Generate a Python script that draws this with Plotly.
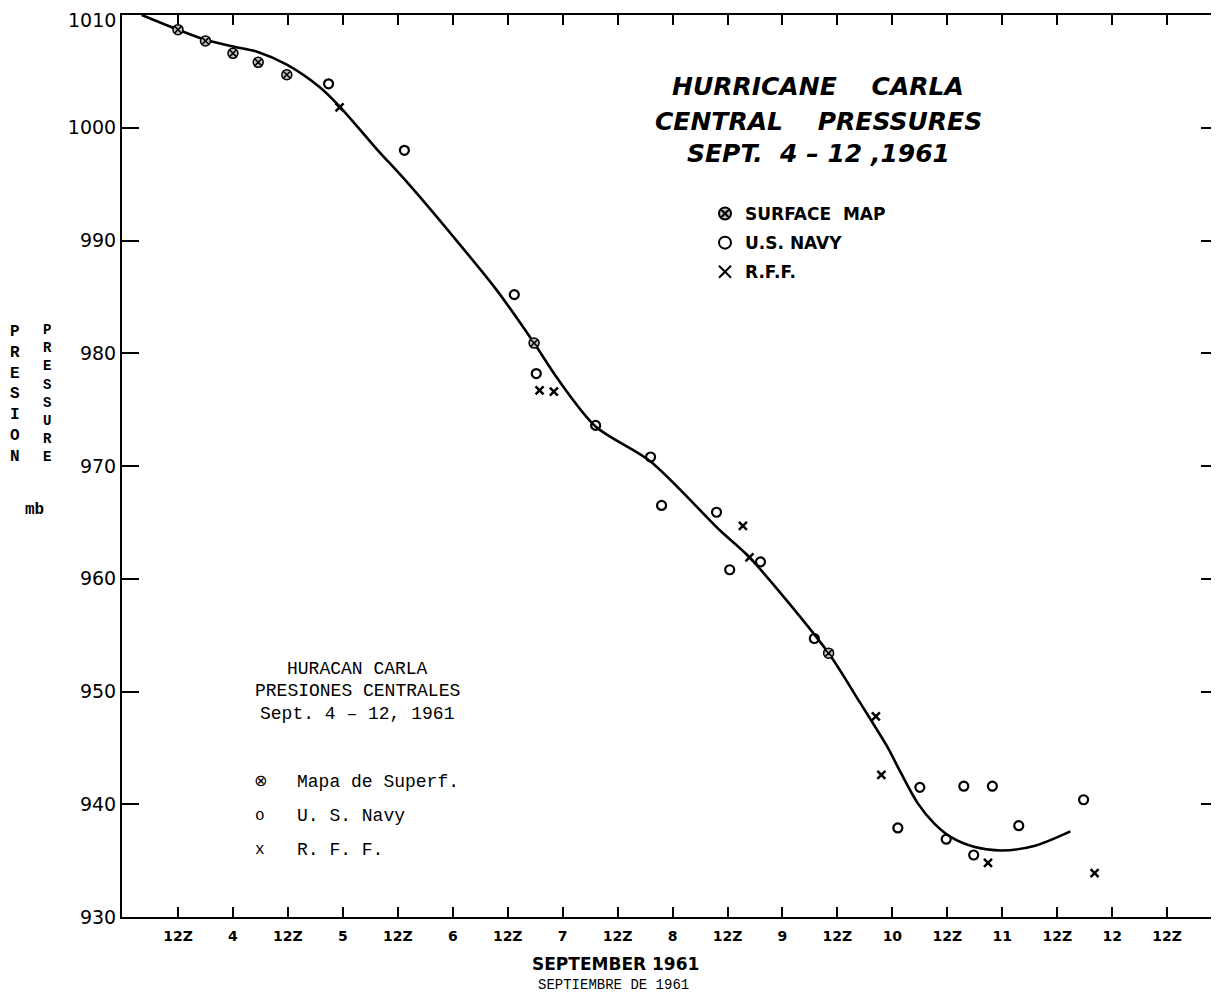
import plotly.graph_objects as go

# x values: day of September 1961 (fractional; .5 = 12Z)
surface_day = [3.50, 3.75, 4.00, 4.23, 4.49, 6.74, 9.42]
surface_mb = [1008.7, 1007.7, 1006.6, 1005.8, 1004.7, 980.9, 953.4]

navy_day = [4.87, 5.56, 6.56, 6.76, 7.30, 7.80, 7.90, 8.40, 8.52, 8.80, 9.29,
            10.05, 10.25, 10.49, 10.65, 10.74, 10.91, 11.15, 11.74]
navy_mb = [1003.9, 998.0, 985.2, 978.2, 973.6, 970.8, 966.5, 965.9, 960.8, 961.5, 954.7,
           937.9, 941.5, 936.9, 941.6, 935.5, 941.6, 938.1, 940.4]

rff_day = [4.97, 6.79, 6.92, 8.64, 8.70, 9.85, 9.90, 10.87, 11.84]
rff_mb = [1001.8, 976.7, 976.6, 964.7, 961.9, 947.8, 942.6, 934.8, 933.9]

curve_day = [3.17, 3.50, 3.75, 4.00, 4.22, 4.49, 4.79, 4.97, 5.30, 5.60, 6.00, 6.40,
             6.74, 6.95, 7.30, 7.80, 8.43, 8.70, 9.42, 9.70, 9.96, 10.05, 10.23, 10.38,
             10.53, 10.75, 10.99, 11.29, 11.62]
curve_mb = [1010.0, 1008.7, 1007.8, 1007.2, 1006.75, 1005.6, 1003.6, 1001.9, 998.2, 995.0,
            990.4, 985.6, 980.9, 977.8, 973.5, 970.4, 964.3, 961.9, 953.4, 949.1, 945.0,
            943.3, 940.1, 938.3, 937.1, 936.2, 935.9, 936.3, 937.6]

tick_days = [3.5, 4, 4.5, 5, 5.5, 6, 6.5, 7, 7.5, 8, 8.5, 9, 9.5, 10, 10.5, 11, 11.5, 12, 12.5]
tick_labels = ["12Z", "4", "12Z", "5", "12Z", "6", "12Z", "7", "12Z", "8", "12Z", "9",
               "12Z", "10", "12Z", "11", "12Z", "12", "12Z"]
y_ticks = [930, 940, 950, 960, 970, 980, 990, 1000, 1010]
y_tick_labels = ["930", "940", "950", "960", "970", "980", "990", "1000", "1010"]

title_lines = ["HURRICANE\u00a0\u00a0\u00a0 CARLA", "CENTRAL\u00a0\u00a0\u00a0 PRESSURES",
               "SEPT.\u00a0 4 \u2013 12 ,1961"]
es_title_lines = ["HURACAN CARLA", "PRESIONES CENTRALES", "Sept. 4 \u2013 12, 1961"]
es_legend_symbols = ["\u2297", "o", "x"]
es_legend_texts = ["Mapa de Superf.", "U. S. Navy", "R. F. F."]

fig = go.Figure()
fig.add_trace(go.Scatter(
    x=curve_day, y=curve_mb, mode="lines", showlegend=False, hoverinfo="skip",
    line=dict(color="black", width=2.6, shape="spline", smoothing=0.8)))
fig.add_trace(go.Scatter(
    x=surface_day, y=surface_mb, mode="markers", name="SURFACE\u00a0\u00a0MAP", legendgroup="a",
    marker=dict(symbol="circle-x", size=10, color="#bdbdbd", line=dict(color="black", width=1.5))))
fig.add_trace(go.Scatter(
    x=navy_day, y=navy_mb, mode="markers", name="U.S. NAVY", legendgroup="b",
    marker=dict(symbol="circle-open", size=9, color="black", line=dict(color="black", width=2.2))))
fig.add_trace(go.Scatter(
    x=rff_day, y=rff_mb, mode="markers", name="R.F.F.", legendgroup="c",
    marker=dict(symbol="x-thin-open", size=8, color="black", line=dict(color="black", width=2.5))))

# the page body adds an 8 px offset; compensate so the plot lands where the reference has it
OFF = 8
L, R, T, B = 114, 1, 7, 78
W, H = 1219 - OFF, 995 - OFF
pw, ph = W - L - R, H - T - B


def px(xp):
    return (xp - OFF - L) / pw


def py(yp):
    return (H - B - (yp - OFF)) / ph


ytick_font = dict(family="DejaVu Sans", size=19, color="black")

ann = []
# the top tick label sits at the very top edge; place it just inside the page so it is not clipped
ann.append(dict(text=y_tick_labels[-1], x=px(117), y=py(8.5), xref="paper", yref="paper",
                xanchor="right", yanchor="top", showarrow=False, font=ytick_font, borderpad=0))

title_font = dict(family="DejaVu Sans", size=25, color="black", style="italic", weight="bold")
for txt, yy in zip(title_lines, [86.5, 121.5, 154]):
    ann.append(dict(text=txt, x=px(818), y=py(yy), xref="paper", yref="paper",
                    xanchor="center", yanchor="middle", showarrow=False, font=title_font))

es_font = dict(family="Liberation Mono", size=18, color="black")
for txt, yy in zip(es_title_lines, [669, 691, 714]):
    ann.append(dict(text=txt, x=px(357), y=py(yy), xref="paper", yref="paper",
                    xanchor="center", yanchor="middle", showarrow=False, font=es_font))
for sym, txt, yy in zip(es_legend_symbols, es_legend_texts, [782, 816, 850]):
    ann.append(dict(text=sym, x=px(260), y=py(yy), xref="paper", yref="paper",
                    xanchor="center", yanchor="middle", showarrow=False,
                    font=dict(family="Liberation Mono, DejaVu Sans", size=16, color="black")))
    ann.append(dict(text=txt, x=px(295), y=py(yy), xref="paper", yref="paper",
                    xanchor="left", yanchor="middle", showarrow=False, font=es_font))

ann.append(dict(text="SEPTEMBER 1961", x=px(615), y=py(964), xref="paper", yref="paper",
                xanchor="center", yanchor="middle", showarrow=False,
                font=dict(family="DejaVu Sans", size=17, color="black", weight="bold")))
ann.append(dict(text="SEPTIEMBRE DE 1961", x=px(613), y=py(985), xref="paper", yref="paper",
                xanchor="center", yanchor="middle", showarrow=False,
                font=dict(family="Liberation Mono", size=14, color="black")))

ann.append(dict(text="<br>".join("PRESION"), x=px(15), y=py(394), xref="paper", yref="paper",
                xanchor="center", yanchor="middle", showarrow=False,
                font=dict(family="Liberation Mono", size=16, color="black", weight="bold")))
ann.append(dict(text="<br>".join("PRESSURE"), x=px(47), y=py(393.5), xref="paper", yref="paper",
                xanchor="center", yanchor="middle", showarrow=False,
                font=dict(family="Liberation Mono", size=14, color="black", weight="bold")))
ann.append(dict(text="mb", x=px(34), y=py(510), xref="paper", yref="paper",
                xanchor="center", yanchor="middle", showarrow=False,
                font=dict(family="Liberation Mono", size=16, color="black", weight="bold")))

fig.update_layout(
    width=W, height=H, margin=dict(l=L, r=R, t=T, b=B, autoexpand=False),
    paper_bgcolor="white", plot_bgcolor="white",
    showlegend=True,
    legend=dict(x=px(705), y=py(196), xanchor="left", yanchor="top",
                bgcolor="rgba(0,0,0,0)", tracegroupgap=4, itemsizing="constant",
                font=dict(family="DejaVu Sans", size=17, color="black", weight="bold")),
    annotations=ann,
    xaxis=dict(range=[2.9905, 12.963], tickmode="array", tickvals=tick_days, ticktext=tick_labels,
               ticks="inside", ticklen=10, tickwidth=2, tickcolor="black", ticklabelstandoff=5,
               showline=True, linecolor="black", linewidth=2, mirror="ticks",
               showgrid=False, zeroline=False, ticklabeloverflow="allow",
               tickfont=dict(family="DejaVu Sans", size=14, color="black", weight="bold")),
    yaxis=dict(range=[930, 1010], tickmode="array", tickvals=y_ticks,
               ticktext=y_tick_labels[:-1] + [""],
               ticks="inside", ticklen=17, tickwidth=2, tickcolor="black",
               showline=True, linecolor="black", linewidth=2, mirror="ticks",
               showgrid=False, zeroline=False, ticklabeloverflow="allow",
               tickfont=ytick_font),
)

fig.write_html("out.html")
